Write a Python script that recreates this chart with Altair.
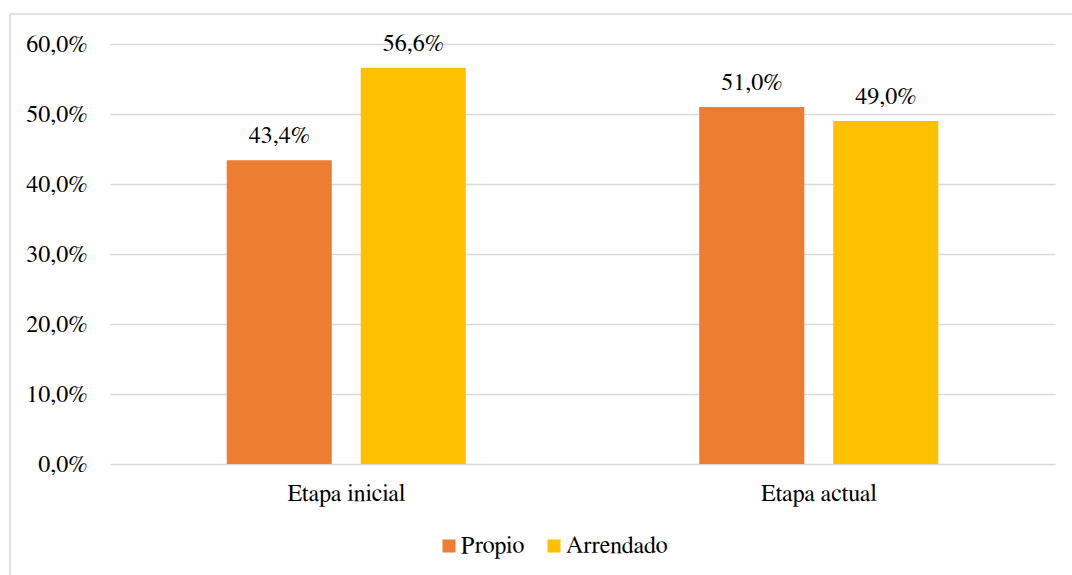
import altair as alt
import pandas as pd

# Share of land tenure by project stage
etapas = ["Etapa inicial", "Etapa inicial", "Etapa actual", "Etapa actual"]
tenencia = ["Propio", "Arrendado", "Propio", "Arrendado"]
porcentaje = [43.4, 56.6, 51.0, 49.0]

df = pd.DataFrame({"etapa": etapas, "tenencia": tenencia, "pct": porcentaje})

FONT = "FreeSerif"
SIZE = 24
orden_etapas = ["Etapa inicial", "Etapa actual"]
orden_tenencia = ["Propio", "Arrendado"]
colores = ["#ED7D31", "#FFC000"]

base = alt.Chart(df).encode(
    x=alt.X(
        "etapa:N",
        sort=orden_etapas,
        title=None,
        scale=alt.Scale(paddingInner=0, paddingOuter=0),
        axis=alt.Axis(
            labelAngle=0, domain=False, ticks=False, grid=False,
            labelFont=FONT, labelFontSize=SIZE, labelColor="#000000",
            labelPadding=17,
        ),
    ),
    xOffset=alt.XOffset(
        "tenencia:N",
        sort=orden_tenencia,
        scale=alt.Scale(paddingInner=0.216, paddingOuter=0.871),
    ),
)

barras = base.mark_bar().encode(
    y=alt.Y(
        "pct:Q",
        title=None,
        scale=alt.Scale(domain=[0, 60], nice=False),
        axis=alt.Axis(
            values=[0, 10, 20, 30, 40, 50, 60],
            labelExpr="replace(format(datum.value, '.1f'), '.', ',') + '%'",
            domain=False, ticks=False,
            gridColor="#d9d9d9", gridWidth=1.5,
            labelFont=FONT, labelFontSize=SIZE, labelColor="#000000",
            labelPadding=23,
        ),
    ),
    color=alt.Color(
        "tenencia:N",
        sort=orden_tenencia,
        scale=alt.Scale(domain=orden_tenencia, range=colores),
        legend=alt.Legend(
            title=None, orient="none", direction="horizontal",
            legendX=327, legendY=490,
            symbolType="square", symbolSize=169, symbolStrokeWidth=0,
            labelFont=FONT, labelFontSize=SIZE, labelColor="#000000",
            labelOffset=0, columnPadding=17,
        ),
    ),
)

etiquetas = base.transform_calculate(
    texto="replace(format(datum.pct, '.1f'), '.', ',') + '%'"
).mark_text(
    font=FONT, fontSize=SIZE, color="#000000", baseline="alphabetic", dy=-17
).encode(
    y="pct:Q",
    text="texto:N",
)

# light frame around the whole figure
marco = alt.Chart(alt.Data(values=[{}])).mark_rect(
    fill=None, stroke="#d9d9d9", strokeWidth=1.5
).encode(
    x=alt.value(-100), x2=alt.value(1200),
    y=alt.value(-30), y2=alt.value(700),
)

chart = alt.layer(marco, barras, etiquetas).properties(
    width=945,
    height=420,
    autosize=alt.AutoSizeParams(type="none"),
    padding={"left": 110, "top": 44, "right": 17, "bottom": 111},
    background="#ffffff",
).configure_view(stroke=None)

chart.save("out.html", embed_options={"renderer": "svg", "actions": False})
